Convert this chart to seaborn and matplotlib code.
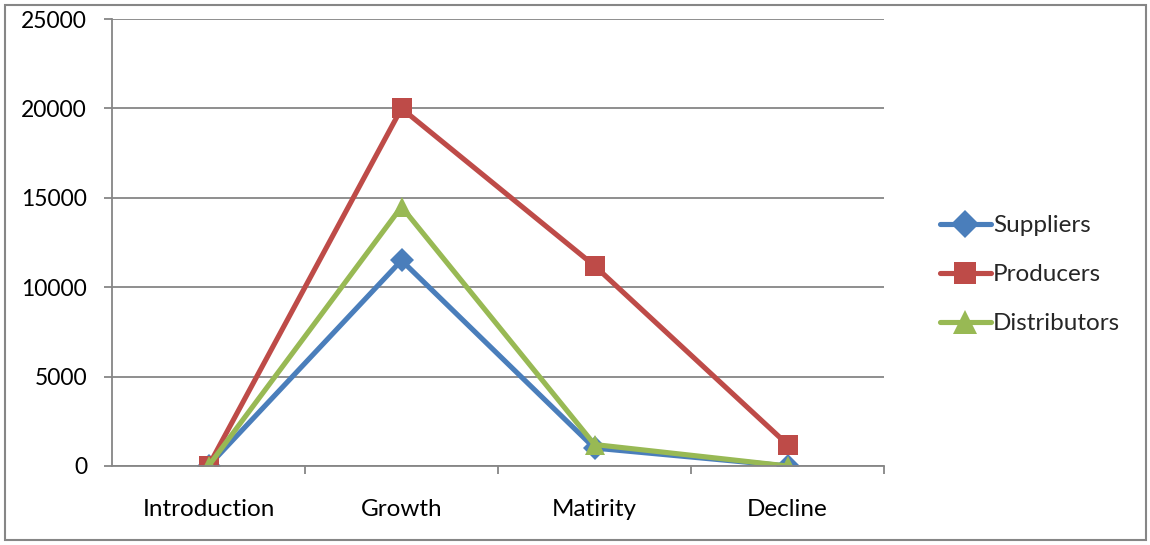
import matplotlib
matplotlib.use("Agg")
import matplotlib.pyplot as plt
import seaborn as sns
import pandas as pd
from matplotlib.patches import Rectangle

stages = ["Introduction", "Growth", "Matirity", "Decline"]
suppliers = [0, 11500, 1000, 0]
producers = [0, 20000, 11200, 1200]
distributors = [0, 14500, 1200, 0]
y_ticks = [0, 5000, 10000, 15000, 20000, 25000]

series = [
    ("Suppliers", suppliers, "#4A7EBB", "D", 12),
    ("Producers", producers, "#BE4B48", "s", 14),
    ("Distributors", distributors, "#98B954", "^", 15),
]

sns.set_theme(style="white")
plt.rcParams["font.family"] = ["Lato", "DejaVu Sans"]

fig = plt.figure(figsize=(11.5, 5.45), dpi=100)
ax = fig.add_axes([0.0974, 0.145, 0.6713, 0.8201])

for name, vals, color, marker, ms in series:
    df = pd.DataFrame({"stage": stages, "value": vals})
    sns.lineplot(data=df, x="stage", y="value", ax=ax, color=color,
                 marker=marker, markersize=ms, markeredgewidth=0,
                 linewidth=3.7, label=name, sort=False)

ax.set_xlim(-0.5, 3.5)
ax.set_ylim(0, 25000)
ax.set_yticks(y_ticks)
ax.set_yticklabels([str(v) for v in y_ticks])
ax.set_xlabel("")
ax.set_ylabel("")

grid_color = "#868686"
ax.yaxis.grid(True, color=grid_color, linewidth=1.3)
ax.xaxis.grid(False)
ax.set_axisbelow(True)
for side in ["top", "right"]:
    ax.spines[side].set_visible(False)
ax.spines["left"].set_color(grid_color)
ax.spines["left"].set_linewidth(1.3)
ax.spines["bottom"].set_color(grid_color)
ax.spines["bottom"].set_linewidth(1.3)

ax.tick_params(axis="y", which="major", length=6, width=1.3, color=grid_color,
               direction="out", left=True, labelsize=16.5, pad=12)
ax.tick_params(axis="x", which="major", length=0, labelsize=17.5, pad=24)
ax.set_xticks([0.5, 1.5, 2.5, 3.5], minor=True)
ax.tick_params(axis="x", which="minor", length=6, width=1.3, color=grid_color,
               direction="out", bottom=True)
for lbl in ax.get_xticklabels() + ax.get_yticklabels():
    lbl.set_color("black")

handles, labels = ax.get_legend_handles_labels()
ax.get_legend().remove()
fig.legend(handles, labels, loc="center left", bbox_to_anchor=(0.798, 0.496),
           frameon=False, fontsize=17.5, handlelength=2.1, handletextpad=0.1,
           labelspacing=1.15, markerscale=1.15)

fig.patches.append(Rectangle((5 / 1150, 5 / 545), 1141 / 1150, 535 / 545,
                             transform=fig.transFigure, fill=False,
                             edgecolor=grid_color, linewidth=1.5))

fig.savefig("out.png", dpi=100, facecolor="white")
